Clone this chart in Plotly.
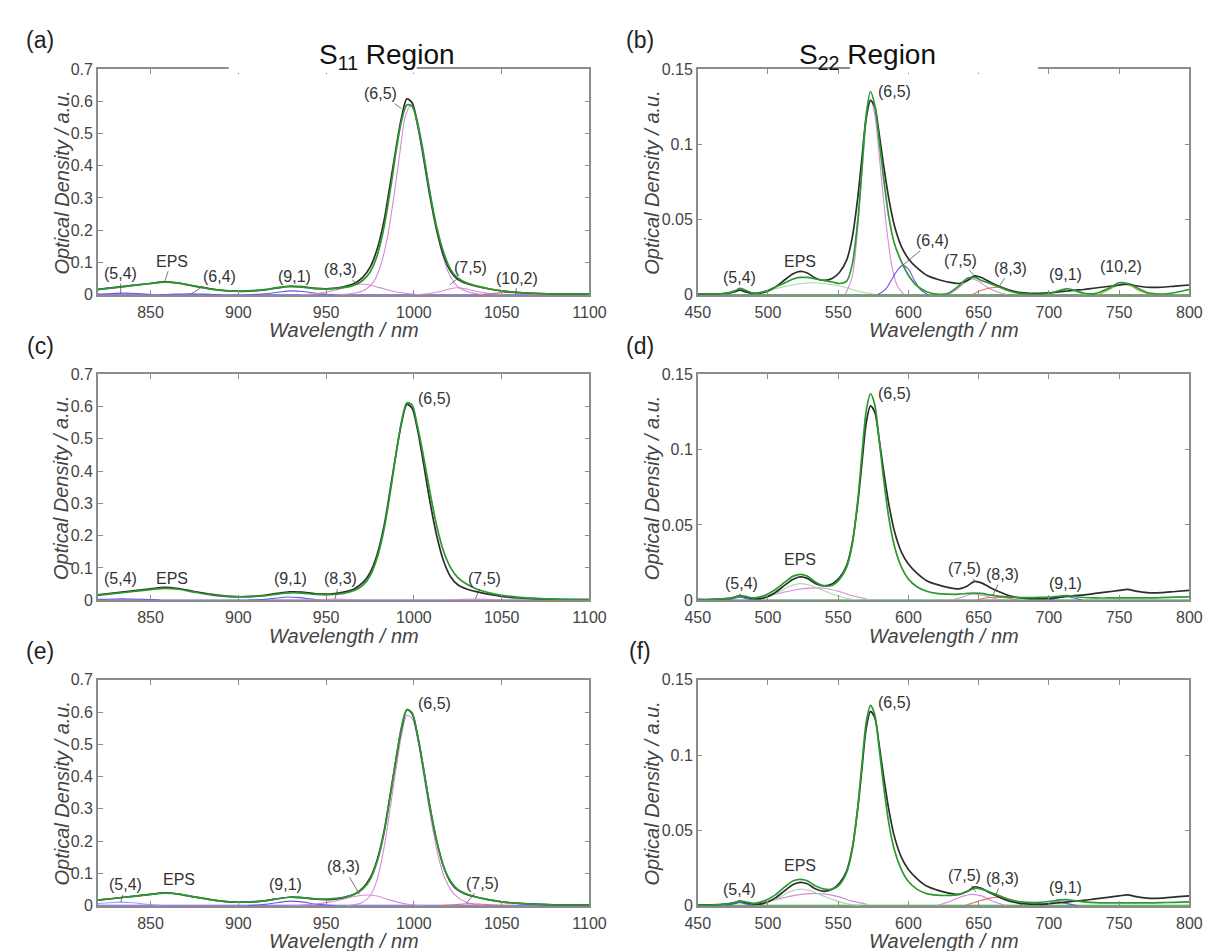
import plotly.graph_objects as go

# ---------------- wavelength grids (nm) ----------------
W11 = [820, 830, 840, 850, 858, 866, 875, 885, 895, 905, 915, 922, 929, 936, 944, 952, 960, 966, 971, 975,
       979, 983, 987, 990, 993, 996, 999, 1002, 1005, 1009, 1013, 1017, 1021, 1025, 1030, 1036, 1043, 1050,
       1060, 1072, 1085, 1100]
W22 = [450, 460, 470, 476, 480, 484, 490, 497, 505, 512, 518, 523, 528, 534, 540, 546, 551, 556, 560, 564,
       567, 570, 573, 576, 579, 582, 586, 590, 595, 600, 606, 613, 620, 628, 636, 642, 647, 652, 658, 665,
       672, 680, 690, 700, 708, 713, 718, 725, 733, 742, 750, 756, 762, 770, 780, 790, 800]

# ---------------- measured spectra ----------------
MEAS11 = [0.017, 0.023, 0.029, 0.035, 0.040, 0.036, 0.027, 0.018, 0.012, 0.011, 0.015, 0.021, 0.026, 0.025,
          0.020, 0.019, 0.025, 0.035, 0.055, 0.085, 0.14, 0.23, 0.36, 0.46, 0.55, 0.607, 0.595, 0.53, 0.44,
          0.31, 0.20, 0.12, 0.072, 0.048, 0.035, 0.026, 0.018, 0.012, 0.007, 0.004, 0.002, 0.002]
MEAS22 = [0.0005, 0.0005, 0.001, 0.002, 0.003, 0.002, 0.001, 0.0015, 0.005, 0.010, 0.014, 0.0155, 0.0145,
          0.011, 0.0095, 0.011, 0.015, 0.023, 0.038, 0.065, 0.092, 0.118, 0.129, 0.125, 0.108, 0.088, 0.064,
          0.046, 0.032, 0.024, 0.018, 0.013, 0.0105, 0.0085, 0.0075, 0.0095, 0.0125, 0.0115, 0.0085, 0.0055,
          0.003, 0.0015, 0.001, 0.0012, 0.002, 0.0025, 0.003, 0.0035, 0.0045, 0.0055, 0.0065, 0.0072, 0.006,
          0.005, 0.005, 0.0058, 0.0065]

# ---------------- fitted spectra ----------------
FIT_A = [0.016, 0.022, 0.029, 0.035, 0.039, 0.036, 0.027, 0.017, 0.012, 0.012, 0.016, 0.022, 0.026, 0.024,
         0.019, 0.018, 0.022, 0.030, 0.045, 0.07, 0.12, 0.21, 0.34, 0.45, 0.54, 0.588, 0.585, 0.53, 0.45,
         0.32, 0.21, 0.13, 0.078, 0.052, 0.037, 0.027, 0.018, 0.012, 0.007, 0.004, 0.002, 0.002]
FIT_C = [0.015, 0.021, 0.027, 0.033, 0.037, 0.034, 0.025, 0.016, 0.011, 0.011, 0.014, 0.019, 0.023, 0.022,
         0.018, 0.017, 0.021, 0.030, 0.047, 0.075, 0.13, 0.22, 0.35, 0.46, 0.555, 0.612, 0.605, 0.54, 0.46,
         0.34, 0.23, 0.15, 0.10, 0.07, 0.05, 0.034, 0.023, 0.015, 0.009, 0.005, 0.003, 0.002]
FIT_E = [0.017, 0.023, 0.029, 0.035, 0.039, 0.036, 0.027, 0.018, 0.012, 0.011, 0.015, 0.021, 0.026, 0.025,
         0.021, 0.021, 0.026, 0.035, 0.052, 0.08, 0.135, 0.225, 0.355, 0.46, 0.555, 0.608, 0.597, 0.53, 0.44,
         0.31, 0.20, 0.12, 0.075, 0.05, 0.036, 0.026, 0.018, 0.012, 0.007, 0.004, 0.002, 0.002]
FIT_B = [0.0003, 0.0004, 0.001, 0.0025, 0.0042, 0.003, 0.001, 0.002, 0.005, 0.008, 0.0105, 0.0115, 0.0115,
         0.0105, 0.0095, 0.0085, 0.0075, 0.009, 0.02, 0.05, 0.085, 0.12, 0.135, 0.126, 0.104, 0.08, 0.052,
         0.034, 0.022, 0.013, 0.006, 0.002, 0.0005, 0.0008, 0.006, 0.011, 0.0115, 0.0095, 0.0075, 0.005,
         0.0025, 0.0008, 0.0003, 0.0008, 0.003, 0.004, 0.003, 0.001, 0.0008, 0.004, 0.008, 0.0075, 0.005,
         0.0015, 0.0005, 0.0015, 0.0035]
FIT_D = [0.0003, 0.0004, 0.001, 0.002, 0.003, 0.0025, 0.0015, 0.003, 0.007, 0.012, 0.016, 0.0172, 0.016,
         0.012, 0.0095, 0.010, 0.014, 0.022, 0.037, 0.067, 0.098, 0.126, 0.137, 0.13, 0.108, 0.083, 0.055,
         0.036, 0.022, 0.014, 0.009, 0.006, 0.0045, 0.004, 0.004, 0.0045, 0.0048, 0.0045, 0.0035, 0.0025,
         0.002, 0.0017, 0.0018, 0.002, 0.0028, 0.003, 0.0025, 0.0018, 0.0015, 0.0015, 0.0015, 0.0015, 0.0015,
         0.0015, 0.0017, 0.002, 0.0022]
FIT_F = [0.0003, 0.0004, 0.001, 0.002, 0.003, 0.0025, 0.0015, 0.003, 0.007, 0.0125, 0.0165, 0.0175, 0.0165,
         0.013, 0.011, 0.011, 0.014, 0.022, 0.037, 0.066, 0.095, 0.122, 0.133, 0.127, 0.106, 0.082, 0.055,
         0.037, 0.024, 0.016, 0.011, 0.008, 0.007, 0.0068, 0.0075, 0.0095, 0.0115, 0.011, 0.009, 0.0065,
         0.004, 0.0025, 0.002, 0.0028, 0.0038, 0.004, 0.0033, 0.0025, 0.002, 0.0018, 0.0018, 0.0018, 0.0018,
         0.0018, 0.002, 0.0022, 0.0025]

# ---------------- fitted components: panel (a) ----------------
A_P65_X = [955, 965, 972, 977, 981, 985, 989, 992, 995, 998, 1001, 1004, 1008, 1012, 1016, 1020, 1025, 1032, 1040]
A_P65_Y = [0, 0.004, 0.015, 0.04, 0.09, 0.18, 0.32, 0.44, 0.55, 0.585, 0.56, 0.49, 0.36, 0.23, 0.13, 0.065, 0.025, 0.007, 0]
A_P83_X = [935, 945, 955, 962, 968, 974, 980, 988, 996, 1005]
A_P83_Y = [0, 0.004, 0.014, 0.026, 0.033, 0.031, 0.023, 0.011, 0.004, 0]
A_P75_X = [1000, 1008, 1015, 1020, 1025, 1030, 1036, 1044, 1052]
A_P75_Y = [0, 0.003, 0.010, 0.018, 0.022, 0.018, 0.010, 0.003, 0]
A_P102_X = [1035, 1045, 1052, 1060, 1070, 1080]
A_P102_Y = [0, 0.004, 0.007, 0.005, 0.002, 0]
A_P91_X = [905, 915, 923, 930, 937, 945, 955]
A_P91_Y = [0, 0.003, 0.008, 0.012, 0.010, 0.004, 0]
A_P54_X = [820, 828, 835, 842, 850]
A_P54_Y = [0.002, 0.004, 0.005, 0.004, 0.001]
A_P64_X = [855, 865, 872, 880, 890]
A_P64_Y = [0, 0.002, 0.003, 0.002, 0]

# ---------------- fitted components: panel (b) ----------------
B_P65_X = [555, 560, 564, 567, 570, 573, 576, 580, 584, 588, 592, 597]
B_P65_Y = [0, 0.012, 0.045, 0.082, 0.115, 0.13, 0.12, 0.085, 0.048, 0.02, 0.006, 0]
B_P64_X = [578, 584, 588, 592, 596, 600, 604, 608, 614]
B_P64_Y = [0, 0.004, 0.010, 0.016, 0.0195, 0.017, 0.010, 0.004, 0]
B_P54_X = [470, 475, 480, 485, 490]
B_P54_Y = [0, 0.0015, 0.0035, 0.0015, 0]
B_EPS_X = [490, 500, 510, 520, 530, 540, 550, 558, 566, 575]
B_EPS_Y = [0.001, 0.003, 0.005, 0.007, 0.008, 0.0075, 0.006, 0.004, 0.002, 0.0005]
B_P75_X = [628, 635, 640, 645, 650, 656, 663, 670]
B_P75_Y = [0, 0.004, 0.008, 0.0105, 0.009, 0.005, 0.002, 0]
B_P83_X = [645, 652, 658, 664, 670, 678, 686]
B_P83_Y = [0, 0.003, 0.0045, 0.005, 0.004, 0.0015, 0]
B_P91_X = [698, 705, 712, 719, 726]
B_P91_Y = [0, 0.002, 0.0035, 0.002, 0]
B_P102_X = [735, 742, 750, 758, 766, 775]
B_P102_Y = [0, 0.003, 0.0065, 0.006, 0.002, 0]

# ---------------- fitted components: panel (c) ----------------
C_P91_X = [905, 915, 922, 928, 935, 943, 952]
C_P91_Y = [0, 0.003, 0.007, 0.010, 0.008, 0.003, 0]
C_P83_X = [940, 948, 955, 962, 970]
C_P83_Y = [0, 0.002, 0.004, 0.002, 0]
C_P75_X = [1015, 1025, 1035, 1045, 1055]
C_P75_Y = [0, 0.002, 0.004, 0.002, 0]
C_P54_X = [820, 830, 838, 846, 855]
C_P54_Y = [0.003, 0.004, 0.004, 0.003, 0.001]

# ---------------- fitted components: panel (d) ----------------
D_P54_X = [470, 475, 480, 485, 490]
D_P54_Y = [0, 0.001, 0.002, 0.001, 0]
D_EPS1_X = [490, 500, 510, 520, 530, 540, 550, 560, 570]
D_EPS1_Y = [0.001, 0.003, 0.005, 0.007, 0.008, 0.008, 0.006, 0.003, 0.001]
D_EPS2_X = [495, 505, 515, 523, 530, 538, 546, 555, 565]
D_EPS2_Y = [0.001, 0.004, 0.009, 0.011, 0.010, 0.007, 0.004, 0.0015, 0]
D_P75_X = [630, 638, 645, 652, 660, 668]
D_P75_Y = [0, 0.002, 0.004, 0.0035, 0.0015, 0]
D_P83_X = [648, 655, 662, 670, 678]
D_P83_Y = [0, 0.0015, 0.002, 0.0015, 0]
D_P91_X = [700, 706, 712, 718, 724]
D_P91_Y = [0, 0.0015, 0.0025, 0.0015, 0]

# ---------------- fitted components: panel (e) ----------------
E_P54_X = [820, 826, 833, 840, 848, 856]
E_P54_Y = [0.006, 0.009, 0.011, 0.009, 0.004, 0.001]
E_P91_X = [905, 915, 923, 930, 937, 945, 955]
E_P91_Y = [0, 0.004, 0.010, 0.014, 0.011, 0.004, 0]
E_P83_X = [930, 942, 952, 960, 967, 973, 979, 986, 995, 1005]
E_P83_Y = [0, 0.004, 0.011, 0.020, 0.029, 0.033, 0.030, 0.018, 0.006, 0]
E_P75_X = [1015, 1023, 1030, 1037, 1045, 1055]
E_P75_Y = [0, 0.003, 0.006, 0.005, 0.002, 0]
E_P65_X = [962, 970, 975, 979, 983, 987, 990, 993, 996, 999, 1002, 1006, 1010, 1014, 1018, 1023, 1030, 1040]
E_P65_Y = [0, 0.008, 0.03, 0.08, 0.18, 0.32, 0.43, 0.53, 0.59, 0.58, 0.52, 0.39, 0.26, 0.15, 0.08, 0.035, 0.01, 0]

# ---------------- fitted components: panel (f) ----------------
F_P54_X = [470, 475, 480, 485, 490]
F_P54_Y = [0, 0.001, 0.002, 0.001, 0]
F_EPS1_X = [490, 500, 510, 520, 530, 540, 550, 560, 570]
F_EPS1_Y = [0.001, 0.003, 0.005, 0.007, 0.008, 0.0078, 0.006, 0.003, 0.001]
F_EPS2_X = [495, 505, 515, 523, 530, 538, 546, 555, 565]
F_EPS2_Y = [0.001, 0.004, 0.009, 0.011, 0.010, 0.007, 0.004, 0.0015, 0]
F_P75_X = [620, 630, 638, 645, 652, 660, 670]
F_P75_Y = [0, 0.003, 0.006, 0.0075, 0.0065, 0.003, 0]
F_P83_X = [640, 650, 658, 665, 672, 682]
F_P83_Y = [0, 0.003, 0.005, 0.0055, 0.004, 0]
F_P91_X = [693, 700, 706, 712, 720]
F_P91_Y = [0, 0.0015, 0.0025, 0.0015, 0]

# ---------------- axis ranges and ticks ----------------
RANGE11 = [820, 1100]
RANGE22 = [450, 800]
XT11 = [850, 900, 950, 1000, 1050, 1100]
XT22 = [450, 500, 550, 600, 650, 700, 750, 800]
YT11 = [0, 0.1, 0.2, 0.3, 0.4, 0.5, 0.6, 0.7]
YT11_TXT = ["0", "0.1", "0.2", "0.3", "0.4", "0.5", "0.6", "0.7"]
YT22 = [0, 0.05, 0.1, 0.15]
YT22_TXT = ["0", "0.05", "0.1", "0.15"]

# peak labels: (text, label x, label y, pointer x, pointer y) – pointer None = no leader line
LAB_A = [("(5,4)", 833, 0.066, 833, 0.004), ("EPS", 862, 0.104, 858, 0.040), ("(6,4)", 889, 0.058, 873, 0.002),
         ("(9,1)", 932, 0.058, None, None), ("(8,3)", 958, 0.077, 968, 0.032), ("(6,5)", 981, 0.623, 993, 0.577),
         ("(7,5)", 1032, 0.083, 1020.5, 0.031), ("(10,2)", 1059, 0.052, 1058, 0.002)]
LAB_B = [("(5,4)", 480, 0.0112, None, None), ("EPS", 523, 0.022, None, None), ("(6,5)", 590, 0.135, None, None),
         ("(6,4)", 617, 0.036, 596, 0.0196), ("(7,5)", 637, 0.023, 646.5, 0.013), ("(8,3)", 673, 0.0176, 665, 0.006),
         ("(9,1)", 712, 0.0137, None, None), ("(10,2)", 751, 0.019, None, None)]
LAB_C = [("(5,4)", 833, 0.066, None, None), ("EPS", 862, 0.066, None, None), ("(9,1)", 930, 0.066, None, None),
         ("(8,3)", 958, 0.066, 955, 0.004), ("(6,5)", 1012, 0.625, None, None), ("(7,5)", 1040, 0.066, 1035, 0.004)]
LAB_D = [("(5,4)", 481, 0.011, 480, 0.002), ("EPS", 523, 0.027, None, None), ("(6,5)", 590, 0.137, None, None),
         ("(7,5)", 640, 0.021, 648, 0.012), ("(8,3)", 667, 0.017, 660, 0.003), ("(9,1)", 712, 0.011, None, None)]
LAB_E = [("(5,4)", 836, 0.065, 833, 0.011), ("EPS", 866, 0.08, None, None), ("(9,1)", 927, 0.067, None, None),
         ("(8,3)", 960, 0.12, 969, 0.035), ("(6,5)", 1012, 0.625, None, None), ("(7,5)", 1039, 0.07, 1030, 0.008)]
LAB_F = [("(5,4)", 480, 0.011, None, None), ("EPS", 523, 0.027, None, None), ("(6,5)", 590, 0.135, None, None),
         ("(7,5)", 640, 0.020, 648, 0.009), ("(8,3)", 667, 0.018, 662, 0.0065), ("(9,1)", 712, 0.012, None, None)]

# ---------------- styling ----------------
W, H = 1220, 951
C_MEAS = "#2d2d2d"
C_FIT = "#2a9a30"
C_PINK = "#d88ad8"
C_PURPLE = "#6a55e0"
C_RED = "#e07070"
C_LGREEN = "#a9d9a4"
C_OLIVE = "#b5a040"
C_LAV = "#9fa0ef"
AX_COLOR = "#8c8c8c"
TXT = "#333333"
FONT = "Liberation Sans, Arial, sans-serif"

# panel boxes in pixels: (left, right, top, bottom)
COLS = [(87, 591), (702, 1206)]
ROWS = [(62, 292), (373, 603), (684, 914)]
YTITLE_OFF = [37, 47]

fig = go.Figure()


def line(ax_i, x, y, color, width):
    fig.add_trace(go.Scatter(x=x, y=y, mode="lines", line=dict(color=color, width=width, shape="spline", smoothing=0.8),
                             xaxis=f"x{ax_i}", yaxis=f"y{ax_i}", showlegend=False, hoverinfo="skip"))


panels = [
    # (axis index, col, row, fit, components, labels)
    (1, 0, 0, FIT_A, [(A_P54_X, A_P54_Y, C_PURPLE), (A_P64_X, A_P64_Y, C_PURPLE), (A_P91_X, A_P91_Y, C_PURPLE),
                      (A_P83_X, A_P83_Y, C_PINK), (A_P65_X, A_P65_Y, C_PINK), (A_P75_X, A_P75_Y, C_PINK),
                      (A_P102_X, A_P102_Y, C_RED)], LAB_A),
    (2, 1, 0, FIT_B, [(B_P54_X, B_P54_Y, C_PURPLE), (B_EPS_X, B_EPS_Y, C_LGREEN), (B_P65_X, B_P65_Y, C_PINK),
                      (B_P64_X, B_P64_Y, C_PURPLE), (B_P75_X, B_P75_Y, C_PINK), (B_P83_X, B_P83_Y, C_RED),
                      (B_P91_X, B_P91_Y, C_LGREEN), (B_P102_X, B_P102_Y, C_OLIVE)], LAB_B),
    (3, 0, 1, FIT_C, [(C_P54_X, C_P54_Y, C_PURPLE), (C_P91_X, C_P91_Y, C_PURPLE), (C_P83_X, C_P83_Y, C_PINK),
                      (C_P75_X, C_P75_Y, C_PINK)], LAB_C),
    (4, 1, 1, FIT_D, [(D_P54_X, D_P54_Y, C_PURPLE), (D_EPS1_X, D_EPS1_Y, C_PINK), (D_EPS2_X, D_EPS2_Y, C_LGREEN),
                      (D_P75_X, D_P75_Y, C_PINK), (D_P83_X, D_P83_Y, C_RED), (D_P91_X, D_P91_Y, C_PURPLE)], LAB_D),
    (5, 0, 2, FIT_E, [(E_P54_X, E_P54_Y, C_LAV), (E_P91_X, E_P91_Y, C_PURPLE), (E_P83_X, E_P83_Y, C_PINK),
                      (E_P65_X, E_P65_Y, C_PINK), (E_P75_X, E_P75_Y, C_RED)], LAB_E),
    (6, 1, 2, FIT_F, [(F_P54_X, F_P54_Y, C_PURPLE), (F_EPS1_X, F_EPS1_Y, C_PINK), (F_EPS2_X, F_EPS2_Y, C_LGREEN),
                      (F_P75_X, F_P75_Y, C_PINK), (F_P83_X, F_P83_Y, C_RED), (F_P91_X, F_P91_Y, C_PURPLE)], LAB_F),
]

annotations = []
layout_axes = {}
for idx, col, row, fit, comps, labels in panels:
    s11 = col == 0
    wl = W11 if s11 else W22
    meas = MEAS11 if s11 else MEAS22
    xr = RANGE11 if s11 else RANGE22
    base_color = C_PURPLE if s11 else C_FIT
    # zero baseline of the decomposition
    line(idx, xr, [0, 0], base_color, 1.6)
    for cx, cy, cc in comps:
        line(idx, cx, cy, cc, 1.1)
    line(idx, wl, meas, C_MEAS, 1.7)
    line(idx, wl, fit, C_FIT, 1.7)

    l, r = COLS[col]
    t, b = ROWS[row]
    xkey = "xaxis" if idx == 1 else f"xaxis{idx}"
    ykey = "yaxis" if idx == 1 else f"yaxis{idx}"
    tick_font = dict(size=16, color="#444", family=FONT)
    layout_axes[xkey] = dict(
        domain=[l / W, r / W], anchor=f"y{idx}", range=xr, tickvals=XT11 if s11 else XT22,
        ticks="inside", ticklen=5, tickcolor=AX_COLOR, showline=True, linecolor=AX_COLOR, linewidth=1.5,
        mirror="allticks", showgrid=False, zeroline=False, tickfont=tick_font, ticklabelstandoff=2,
    )
    layout_axes[ykey] = dict(
        domain=[1 - b / H, 1 - t / H], anchor=f"x{idx}", range=[0, 0.7] if s11 else [0, 0.15],
        tickvals=YT11 if s11 else YT22, ticktext=YT11_TXT if s11 else YT22_TXT,
        ticks="inside", ticklen=5, tickcolor=AX_COLOR, showline=True, linecolor=AX_COLOR, linewidth=1.5,
        mirror="allticks", showgrid=False, zeroline=False, tickfont=tick_font,
    )
    # axis titles
    annotations.append(dict(text="<i>Wavelength / nm</i>", xref="paper", yref="paper", x=(l + r) / 2 / W,
                            y=1 - (b + 36) / H, showarrow=False, font=dict(size=20, color="#444", family=FONT),
                            xanchor="center", yanchor="middle"))
    annotations.append(dict(text="<i>Optical Density / a.u.</i>", xref="paper", yref="paper",
                            x=(l - YTITLE_OFF[col]) / W, y=1 - (t + b) / 2 / H, textangle=-90, showarrow=False,
                            font=dict(size=20, color="#444", family=FONT), xanchor="center", yanchor="middle"))
    # panel letter
    annotations.append(dict(text="(" + "abcdef"[idx - 1] + ")", xref="paper", yref="paper",
                            x=(l - 59) / W, y=1 - (t - 29) / H, showarrow=False,
                            font=dict(size=23, color="#222", family=FONT), xanchor="center", yanchor="middle"))
    # peak labels
    for txt, lx, ly, px, py in labels:
        if px is None:
            annotations.append(dict(text=txt, x=lx, y=ly, xref=f"x{idx}", yref=f"y{idx}", showarrow=False,
                                    font=dict(size=16, color=TXT, family=FONT)))
        else:
            annotations.append(dict(text=txt, x=px, y=py, ax=lx, ay=ly, xref=f"x{idx}", yref=f"y{idx}",
                                    axref=f"x{idx}", ayref=f"y{idx}", showarrow=True, arrowhead=0,
                                    arrowwidth=0.8, arrowcolor="#555", standoff=0, startstandoff=0,
                                    font=dict(size=16, color=TXT, family=FONT)))

# column headings on white backing that interrupts the top frame line
shapes = [
    dict(type="rect", xref="paper", yref="paper", x0=221 / W, x1=414 / W, y0=1 - 66 / H, y1=1 - 8 / H,
         fillcolor="white", line=dict(width=0), layer="above"),
    dict(type="rect", xref="paper", yref="paper", x0=858 / W, x1=1051 / W, y0=1 - 66 / H, y1=1 - 8 / H,
         fillcolor="white", line=dict(width=0), layer="above"),
]
annotations.append(dict(text="S<sub>11</sub> Region", xref="paper", yref="paper", x=312 / W, y=1 - 30 / H,
                        showarrow=False, font=dict(size=28, color="#111", family=FONT)))
annotations.append(dict(text="S<sub>22</sub> Region", xref="paper", yref="paper", x=948 / W, y=1 - 30 / H,
                        showarrow=False, font=dict(size=28, color="#111", family=FONT)))

fig.update_layout(
    width=W, height=H, margin=dict(l=0, r=0, t=0, b=0), paper_bgcolor="white", plot_bgcolor="white",
    showlegend=False, annotations=annotations, shapes=shapes, font=dict(family=FONT), **layout_axes,
)

fig.write_html("out.html")
